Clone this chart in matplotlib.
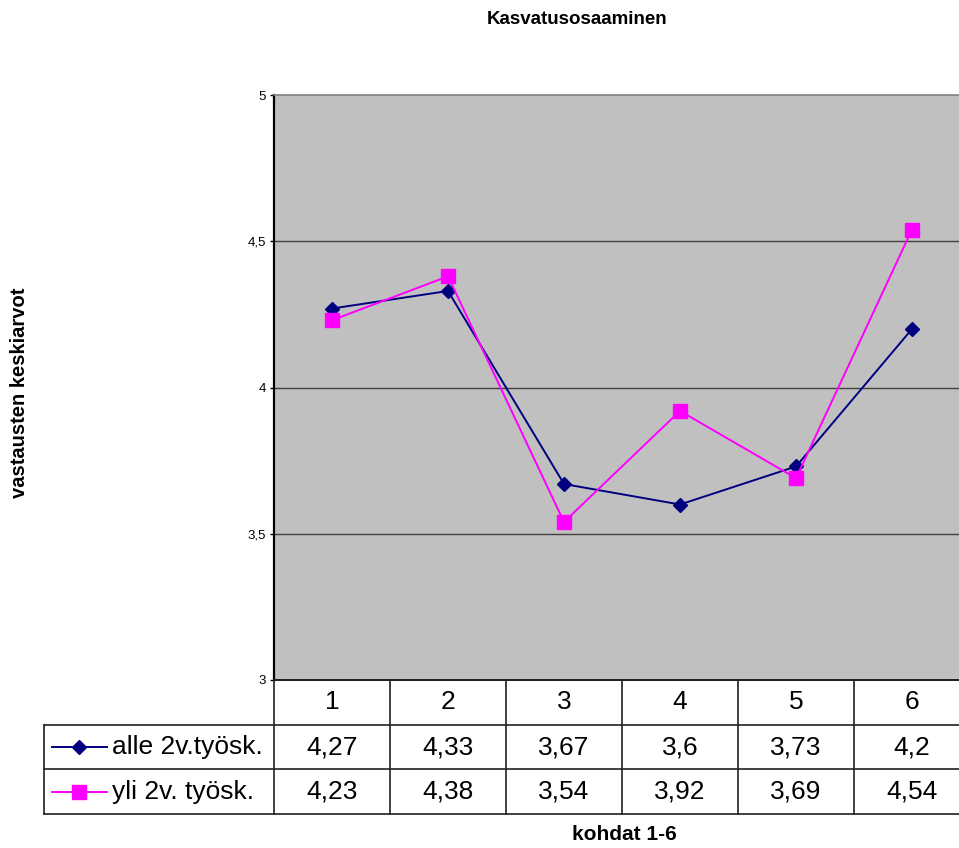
import matplotlib
matplotlib.use("Agg")
import matplotlib.pyplot as plt
import matplotlib.transforms as mtransforms

plt.rcParams['font.family'] = ['Liberation Sans', 'DejaVu Sans']

# --- data -------------------------------------------------------------
title = "Kasvatusosaaminen"
categories = ["1", "2", "3", "4", "5", "6"]
series_names = ["alle 2v.työsk.", "yli 2v. työsk."]
alle = [4.27, 4.33, 3.67, 3.6, 3.73, 4.2]
yli = [4.23, 4.38, 3.54, 3.92, 3.69, 4.54]
y_ticks = [3, 3.5, 4, 4.5, 5]
y_tick_labels = ["3", "3,5", "4", "4,5", "5"]
x_label = "kohdat 1-6"
y_label = "vastausten keskiarvot"

# --- styles -----------------------------------------------------------
NAVY = "#000080"
MAGENTA = "#FF00FF"
styles = [
    dict(color=NAVY, marker="D", ms=6.8, mfc=NAVY, mec=NAVY, lw=1.4),
    dict(color=MAGENTA, marker="s", ms=9.5, mfc=MAGENTA, mec=MAGENTA, lw=1.4),
]
series = [alle, yli]

W, H = 959, 848
fig = plt.figure(figsize=(W / 100, H / 100), dpi=100)


def box(l, t, r, b):
    return [l / W, 1 - b / H, (r - l) / W, (b - t) / H]


def fmt(v):
    return f"{v:g}".replace(".", ",")


# --- chart area -------------------------------------------------------
ax = fig.add_axes(box(274, 95, 970, 680))
ax.set_facecolor("#C0C0C0")
xs = list(range(1, len(categories) + 1))
for vals, st in zip(series, styles):
    ax.plot(xs, vals, zorder=3, **st)
ax.set_xlim(0.5, len(categories) + 0.5)
ax.set_ylim(y_ticks[0], y_ticks[-1])
ax.set_yticks(y_ticks, y_tick_labels, fontsize=9.5)
ax.set_xticks([])
ax.tick_params(axis="y", length=3, width=1, pad=3, colors="black")
for yv in y_ticks[1:-1]:
    ax.axhline(yv, color="#404040", lw=1, zorder=1)
ax.spines["top"].set_color("#808080")
ax.spines["top"].set_linewidth(1.2)
ax.spines["right"].set_visible(False)
ax.spines["left"].set_linewidth(1.6)
ax.spines["bottom"].set_linewidth(1.2)

fig.text(577 / W, 1 - 20 / H, title, fontsize=13.5, fontweight="bold",
         ha="center", va="center")
fig.text(20 / W, 1 - 393 / H, y_label, rotation=90, fontsize=14.5,
         fontweight="bold", ha="center", va="center")
fig.text(624 / W, 1 - 834 / H, x_label, fontsize=15, fontweight="bold",
         ha="center", va="center")

# --- data table -------------------------------------------------------
tab = fig.add_axes(box(274, 680, 970, 814))
tab.set_xlim(0.5, len(categories) + 0.5)
tab.set_ylim(0, 3)
tab.axis("off")
line_kw = dict(color="#202020", lw=1.2, clip_on=False)
mix = mtransforms.blended_transform_factory(fig.transFigure, tab.transData)

# horizontal rules
tab.plot([0.5, len(categories) + 0.5], [3, 3], **line_kw)
for yr in (2, 1, 0):
    tab.plot([44 / W, 1.02], [yr, yr], transform=mix, **line_kw)
# vertical rules
for xc in range(len(categories) + 1):
    tab.plot([xc + 0.5, xc + 0.5], [0, 3], **line_kw)
tab.plot([44 / W, 44 / W], [0, 2], transform=mix, **line_kw)

for xc, cat in zip(xs, categories):
    tab.text(xc, 2.5, cat, ha="center", va="center", fontsize=19)
for row, (name, vals, st) in enumerate(zip(series_names, series, styles)):
    yc = 1.5 - row
    for xc, v in zip(xs, vals):
        tab.text(xc, yc, fmt(v), ha="center", va="center", fontsize=19)
    tab.plot([52 / W, 107 / W], [yc, yc], transform=mix, clip_on=False,
             color=st["color"], lw=1.4)
    tab.plot([79 / W], [yc], transform=mix, clip_on=False, ls="none",
             marker=st["marker"], ms=st["ms"], mfc=st["mfc"],
             mec=st["mec"])
    tab.text(112 / W, yc, name, transform=mix, ha="left", va="center",
             fontsize=19)

fig.savefig("out.png", dpi=100)
